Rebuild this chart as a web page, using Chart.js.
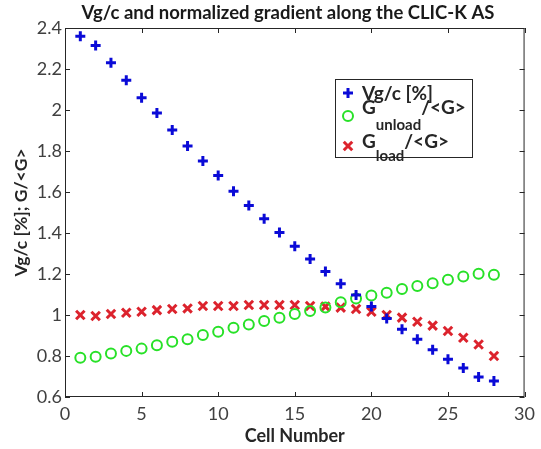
<!DOCTYPE html>
<html>
<head>
<meta charset="utf-8">
<script src="https://cdn.jsdelivr.net/npm/chart.js@4.4.1/dist/chart.umd.min.js"></script>
<style>
  html, body { margin: 0; padding: 0; background: #fff; }
</style>
</head>
<body>
<canvas id="chart" width="541" height="449"></canvas>
<script>
const cells = [1, 2, 3, 4, 5, 6, 7, 8, 9, 10, 11, 12, 13, 14, 15, 16, 17, 18, 19, 20, 21, 22, 23, 24, 25, 26, 27, 28];
const vgc = [2.36, 2.315, 2.23, 2.145, 2.06, 1.985, 1.903, 1.825, 1.751, 1.681, 1.604, 1.534, 1.469, 1.403,
  1.335, 1.273, 1.212, 1.152, 1.098, 1.041, 0.983, 0.931, 0.882, 0.831, 0.784, 0.742, 0.698, 0.678];
const gUnload = [0.792, 0.796, 0.812, 0.825, 0.836, 0.853, 0.869, 0.882, 0.902, 0.918, 0.938, 0.954, 0.971, 0.987,
  1.005, 1.02, 1.037, 1.062, 1.081, 1.095, 1.108, 1.127, 1.142, 1.155, 1.172, 1.188, 1.201, 1.196];
const gLoad = [1.0, 0.995, 1.005, 1.011, 1.016, 1.024, 1.029, 1.032, 1.044, 1.044, 1.044, 1.049, 1.049, 1.049,
  1.049, 1.044, 1.041, 1.036, 1.029, 1.016, 1.0, 0.987, 0.967, 0.948, 0.922, 0.889, 0.856, 0.80];

const legendLabels = [
  { main: 'Vg/c [%]', sub: '', tail: '' },
  { main: 'G', sub: 'unload', tail: '/<G>' },
  { main: 'G', sub: 'load', tail: '/<G>' },
];
const titleText = 'Vg/c and normalized gradient along the CLIC-K AS';

const FONT = 'Lato, "Open Sans", sans-serif';
const AXIS_COLOR = '#262626';

const toPoints = (ys) => cells.map((c, i) => ({ x: c, y: ys[i] }));

// MATLAB-like box with inward ticks on all four sides, plus the title
const boxPlugin = {
  id: 'box',
  afterDraw(chart) {
    const { ctx, chartArea: a, scales } = chart;
    ctx.save();
    ctx.strokeStyle = AXIS_COLOR;
    ctx.lineWidth = 1;
    ctx.strokeRect(a.left + 0.5, a.top + 0.5, a.width - 1, a.height - 1);
    ctx.beginPath();
    scales.x.ticks.forEach(t => {
      const px = Math.round(scales.x.getPixelForValue(t.value)) + 0.5;
      ctx.moveTo(px, a.bottom); ctx.lineTo(px, a.bottom - 5);
      ctx.moveTo(px, a.top); ctx.lineTo(px, a.top + 5);
    });
    scales.y.ticks.forEach(t => {
      const py = Math.round(scales.y.getPixelForValue(t.value)) + 0.5;
      ctx.moveTo(a.left, py); ctx.lineTo(a.left + 5, py);
      ctx.moveTo(a.right, py); ctx.lineTo(a.right - 5, py);
    });
    ctx.stroke();

    ctx.fillStyle = '#1a1a1a';
    ctx.font = 'bold 18.5px ' + FONT;
    ctx.textAlign = 'center';
    ctx.textBaseline = 'middle';
    ctx.fillText(titleText, 288, 13);
    ctx.restore();
  }
};

// legend with subscripts, drawn on the canvas
const subLegendPlugin = {
  id: 'subLegend',
  afterDraw(chart) {
    const { ctx } = chart;
    const box = { x: 335, y: 79, w: 137, h: 78 };
    const markerY = [93, 116, 146];
    const textY = [94, 108, 142];
    const subY = [0, 125, 156];
    ctx.save();
    ctx.fillStyle = '#fff';
    ctx.fillRect(box.x, box.y, box.w, box.h);
    ctx.strokeStyle = AXIS_COLOR;
    ctx.lineWidth = 1;
    ctx.strokeRect(box.x + 0.5, box.y + 0.5, box.w, box.h);
    chart.data.datasets.forEach((ds, i) => {
      ctx.strokeStyle = ds.borderColor;
      ctx.fillStyle = ds.backgroundColor;
      ctx.lineWidth = ds.borderWidth;
      Chart.helpers.drawPoint(ctx, {
        pointStyle: ds.pointStyle, radius: ds.pointRadius, borderWidth: ds.borderWidth, rotation: 0
      }, 348, markerY[i]);
      const lab = legendLabels[i];
      ctx.fillStyle = AXIS_COLOR;
      ctx.textBaseline = 'middle';
      ctx.textAlign = 'left';
      ctx.font = 'bold 19px ' + FONT;
      let x = 362;
      ctx.fillText(lab.main, x, textY[i]);
      x += ctx.measureText(lab.main).width;
      if (lab.sub) {
        ctx.font = 'bold 15px ' + FONT;
        ctx.fillText(lab.sub, x, subY[i]);
        x += ctx.measureText(lab.sub).width;
        ctx.font = 'bold 19px ' + FONT;
        ctx.fillText(lab.tail, x, textY[i]);
      }
    });
    ctx.restore();
  }
};

new Chart(document.getElementById('chart'), {
  type: 'scatter',
  plugins: [boxPlugin, subLegendPlugin],
  data: {
    datasets: [
      {
        label: 'Vg/c [%]',
        data: toPoints(vgc),
        pointStyle: 'cross',
        pointRadius: 5,
        borderWidth: 3,
        borderColor: 'rgb(10,10,215)',
        backgroundColor: 'rgb(10,10,215)',
      },
      {
        label: 'Gunload/<G>',
        data: toPoints(gUnload),
        pointStyle: 'circle',
        pointRadius: 5,
        borderWidth: 2,
        borderColor: 'rgb(40,225,40)',
        backgroundColor: 'rgba(0,0,0,0)',
      },
      {
        label: 'Gload/<G>',
        data: toPoints(gLoad),
        pointStyle: 'crossRot',
        pointRadius: 6,
        borderWidth: 3,
        borderColor: 'rgb(220,35,45)',
        backgroundColor: 'rgb(220,35,45)',
      },
    ],
  },
  options: {
    responsive: false,
    animation: false,
    layout: { padding: { left: 0, right: 10, top: 28, bottom: 0 } },
    plugins: {
      legend: { display: false },
      tooltip: { enabled: false },
      title: { display: false },
    },
    scales: {
      x: {
        type: 'linear',
        min: 0,
        max: 30,
        afterFit: (s) => { s.height = 52; },
        ticks: { stepSize: 5, color: '#404040', padding: 6, font: { family: FONT, size: 18 } },
        grid: { display: false, drawTicks: false },
        border: { display: false },
        title: {
          display: true,
          text: 'Cell Number',
          color: AXIS_COLOR,
          font: { family: FONT, size: 18, weight: 'bold', lineHeight: 1.2 },
          padding: { top: 0, bottom: 2 },
        },
      },
      y: {
        type: 'linear',
        min: 0.6,
        max: 2.4,
        afterFit: (s) => { s.width = 65; },
        ticks: {
          stepSize: 0.2,
          color: '#404040',
          padding: 3,
          font: { family: FONT, size: 18 },
          callback: (v) => String(Number(v.toFixed(2))),
        },
        grid: { display: false, drawTicks: false },
        border: { display: false },
        title: {
          display: true,
          text: 'Vg/c [%]; G/<G>',
          color: AXIS_COLOR,
          font: { family: FONT, size: 17.5, weight: 'bold', lineHeight: 1.2 },
          padding: { top: 11, bottom: 0 },
        },
      },
    },
  },
});
</script>
</body>
</html>
